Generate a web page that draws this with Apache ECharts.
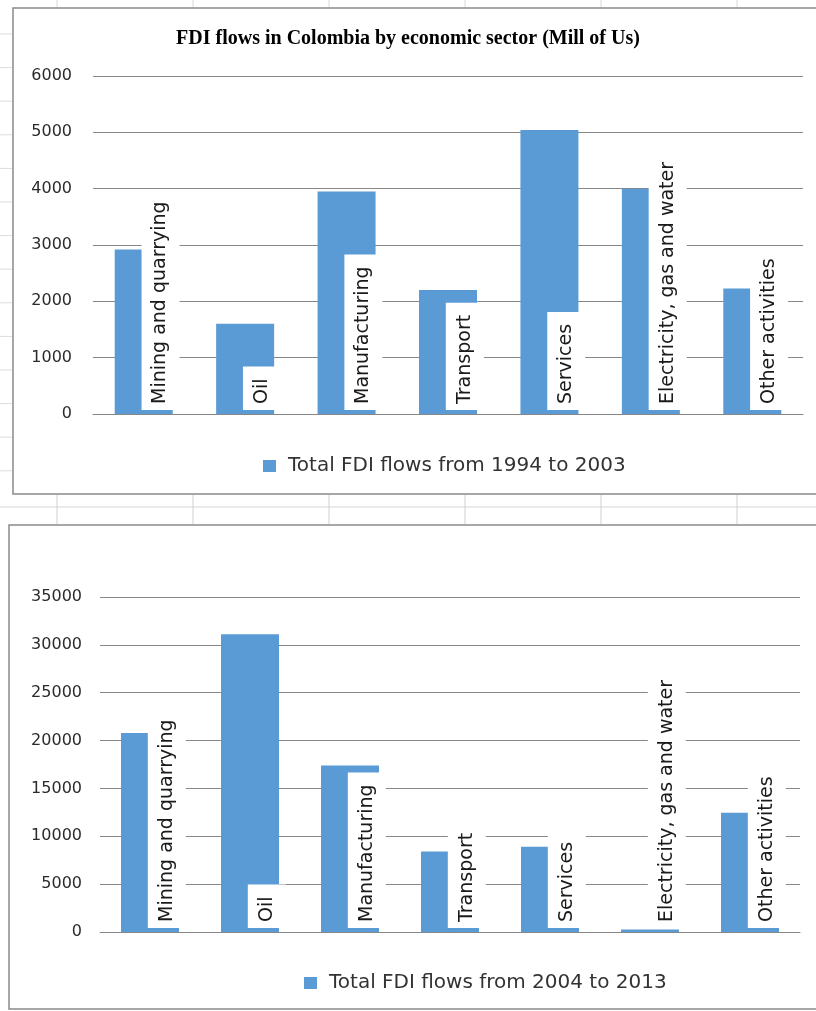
<!DOCTYPE html>
<html>
<head>
<meta charset="utf-8">
<script src="https://cdn.jsdelivr.net/npm/echarts@6/dist/echarts.min.js"></script>
<style>
html,body{margin:0;padding:0;background:#fff;}
#c{width:816px;height:1011px;}
</style>
</head>
<body>
<div id="c"></div>
<script>
var categories = ['Mining and quarrying', 'Oil', 'Manufacturing', 'Transport', 'Services', 'Electricity, gas and water', 'Other activities'];
var flows1994to2003 = [2920, 1600, 3950, 2200, 5040, 4000, 2230];
var flows2004to2013 = [20800, 31100, 17400, 8400, 8900, 250, 12450];
var seriesName1 = 'Total FDI flows from 1994 to 2003';
var seriesName2 = 'Total FDI flows from 2004 to 2013';
var titleText = 'FDI flows in Colombia by economic sector (Mill of Us)';
var axis1 = {min: 0, max: 6000, interval: 1000};
var axis2 = {min: 0, max: 35000, interval: 5000};

var BLUE = '#5B9BD5';
var GRID = '#878787';
var FONT = 'DejaVu Sans';

function catLabel() {
  return {
    show: true, formatter: '{b}', position: ['79%', '100%'], rotate: 90,
    align: 'left', verticalAlign: 'middle', offset: [4, 0],
    backgroundColor: '#ffffff', padding: [7, 12, 11, 6], lineHeight: 20,
    fontSize: 19, fontFamily: FONT, color: '#1a1a1a'
  };
}
function yAxis(idx, a, margin) {
  return {
    type: 'value', gridIndex: idx, min: a.min, max: a.max, interval: a.interval,
    axisLine: {show: false}, axisTick: {show: false},
    axisLabel: {fontFamily: FONT, fontSize: 16, color: '#2b2b2b', margin: margin,
      formatter: function (v) { return String(v); }},
    splitLine: {lineStyle: {color: GRID, width: 1}}
  };
}
function xAxis(idx) {
  return {
    type: 'category', gridIndex: idx, data: categories,
    axisLine: {lineStyle: {color: GRID, width: 1}}, axisTick: {show: false},
    axisLabel: {show: false}
  };
}

var graphics = [];
// chart frames (right side runs off the page, as in the screenshot)
graphics.push({type: 'rect', shape: {x: 13, y: 8, width: 900, height: 486}, style: {fill: null, stroke: '#8a8a8a', lineWidth: 1.5}, z: 10});
graphics.push({type: 'rect', shape: {x: 9, y: 525, width: 900, height: 484}, style: {fill: null, stroke: '#8a8a8a', lineWidth: 1.5}, z: 10});
// spreadsheet cells visible around the charts
graphics.push({type: 'line', shape: {x1: 0, y1: 507, x2: 816, y2: 507}, style: {stroke: '#d6d6d6', lineWidth: 1}});
[57, 193, 329, 465, 601, 737].forEach(function (x) {
  graphics.push({type: 'line', shape: {x1: x, y1: 494, x2: x, y2: 525}, style: {stroke: '#d0d0d0', lineWidth: 1}});
  graphics.push({type: 'line', shape: {x1: x, y1: 0, x2: x, y2: 8}, style: {stroke: '#d8d8d8', lineWidth: 1}});
});
for (var k = 0; k < 14; k++) {
  var yy = 34 + k * 33.6;
  graphics.push({type: 'line', shape: {x1: 0, y1: yy, x2: 12, y2: yy}, style: {stroke: '#dcdcdc', lineWidth: 1}});
}

var option = {
  animation: false,
  backgroundColor: '#ffffff',
  title: {
    text: titleText, left: 'center', top: 24,
    textStyle: {fontFamily: 'Liberation Serif', fontWeight: 'bold', fontSize: 20, color: '#000'}
  },
  graphic: graphics,
  legend: [
    {data: [seriesName1], left: 258, top: 451, icon: 'rect', itemWidth: 13, itemHeight: 12,
     textStyle: {fontFamily: FONT, fontSize: 20, color: '#333', padding: [0, 0, 0, 7]}, selectedMode: false},
    {data: [seriesName2], left: 299, top: 968, icon: 'rect', itemWidth: 13, itemHeight: 12,
     textStyle: {fontFamily: FONT, fontSize: 20, color: '#333', padding: [0, 0, 0, 7]}, selectedMode: false}
  ],
  grid: [
    {left: 93, width: 710, top: 76, height: 338},
    {left: 100, width: 700, top: 597, height: 335}
  ],
  xAxis: [xAxis(0), xAxis(1)],
  yAxis: [yAxis(0, axis1, 21), yAxis(1, axis2, 18)],
  series: [
    {type: 'bar', name: seriesName1, xAxisIndex: 0, yAxisIndex: 0, data: flows1994to2003, barWidth: 58,
     itemStyle: {color: BLUE}, label: catLabel(), emphasis: {disabled: true}},
    {type: 'bar', name: seriesName2, xAxisIndex: 1, yAxisIndex: 1, data: flows2004to2013, barWidth: 58,
     itemStyle: {color: BLUE}, label: catLabel(), emphasis: {disabled: true}}
  ]
};
var chart = echarts.init(document.getElementById('c'), null, {renderer: 'canvas'});
chart.setOption(option);
</script>
</body>
</html>
